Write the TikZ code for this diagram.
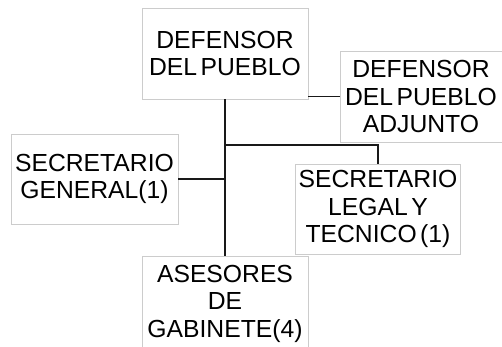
\documentclass[tikz,border=0pt]{standalone}
\usepackage{fontspec}
\setmainfont{Liberation Sans}
\newcommand\orgboxfont{\fontsize{24.7}{27.5}\selectfont\spaceskip 3.5pt\relax}
\begin{document}
\begin{tikzpicture}[x=1pt,y=-1pt,
  box/.style={draw=black!20,line width=0.8pt,fill=white,align=center,inner sep=0pt,
    font=\orgboxfont},
  link/.style={draw=black!90,line width=1.6pt}]
\useasboundingbox (0,0) rectangle (502,347);
\node[box,minimum width=166pt,minimum height=91pt] (top) at (225,53.5) {DEFENSOR\\DEL PUEBLO};
\node[box,minimum width=162pt,minimum height=91pt] (adj) at (421,96.5) {DEFENSOR\\DEL PUEBLO\\ADJUNTO};
\node[box,minimum width=167pt,minimum height=90pt] (gen) at (94.5,179) {SECRETARIO\\GENERAL(1)};
\node[box,minimum width=165pt,minimum height=90pt] (leg) at (378,209) {SECRETARIO\\LEGAL Y\\TECNICO (1)};
\node[box,minimum width=166pt,minimum height=95pt] (ase) at (225,303.5) {ASESORES\\DE\\GABINETE(4)};
\coordinate (j1) at (225,145);
\draw[link] (top.south) -- (ase.north);
\draw[link] (adj.west) -- (adj.west -| top.east);
\draw[link] (j1) -| (leg.north);
\draw[link] (gen.east) -- (gen.east -| top.south);
\end{tikzpicture}
\end{document}
